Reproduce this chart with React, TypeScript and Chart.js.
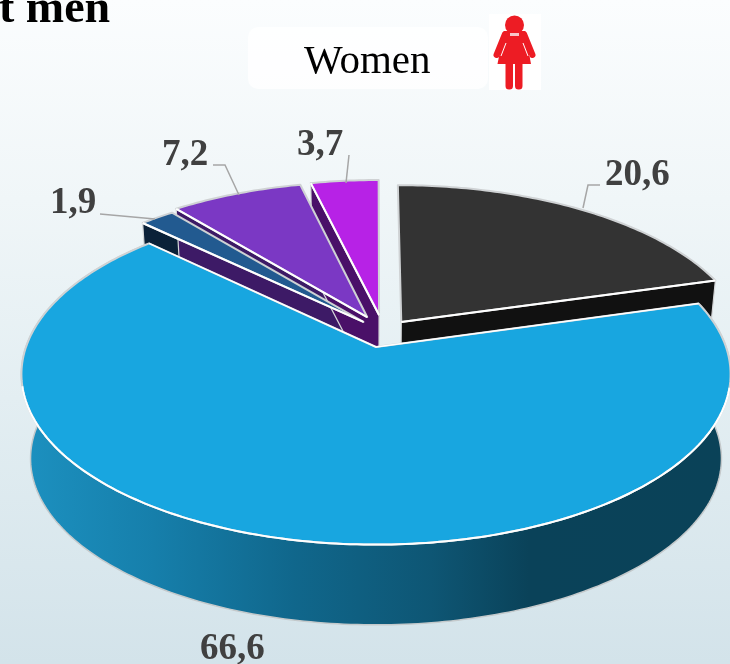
import React, { useEffect, useRef } from "react";
import { Chart, registerables } from "chart.js";

Chart.register(...registerables);

const categories = ["Group A", "Group B", "Group C", "Group D", "Group E"];
const values = [20.6, 66.6, 1.9, 7.2, 3.7];
const topColors = ["#333333", "#18a6e0", "#225a90", "#7b38c4", "#b722e6"];
const wallColors = ["#111111", "#0e5674", "#0b2138", "#3d1a66", "#4a1068"];
const title = "t men";
const subtitle = "Women";

// Style: how far each slice is pulled out, in units of the pie radius
const explodeU = [0.074, 0, -0.037, -0.026, 0.009];
const explodeV = [-0.155, 0, -0.155, -0.186, -0.199];
// Style: text anchor and leader line of every value label
const labelPos = [
  { x: 605, y: 185, line: [[600, 185], [588, 185], [583, 208]] },
  { x: 200, y: 659, line: [] },
  { x: 50, y: 213, line: [[100, 214], [155, 219]] },
  { x: 162, y: 165, line: [[213, 165], [225, 165], [239, 195]] },
  { x: 297, y: 155, line: [[349, 155], [346, 183]] },
];

const P = 0.16;
const planes = [
  { cx: 376, cy: 347, rx: 350, ry: 166 },
  { cx: 376, cy: 432, rx: 341, ry: 162 },
];

function proj(u: number, v: number, plane: number): [number, number] {
  const g = planes[plane];
  const w = 1 / (1 - P * v);
  return [g.cx + g.rx * u * w, g.cy + g.ry * v * w];
}

function pathOf(ctx: CanvasRenderingContext2D, pts: [number, number][], close = true) {
  ctx.beginPath();
  pts.forEach((p, i) => (i ? ctx.lineTo(p[0], p[1]) : ctx.moveTo(p[0], p[1])));
  if (close) ctx.closePath();
}

function rimPoints(start: number, end: number, i: number, plane: number) {
  const pts: [number, number][] = [];
  const n = Math.max(4, Math.ceil((end - start) * 60));
  for (let k = 0; k <= n; k++) {
    const a = start + ((end - start) * k) / n;
    pts.push(proj(Math.cos(a) + explodeU[i], Math.sin(a) + explodeV[i], plane));
  }
  return pts;
}

function drawIcon(ctx: CanvasRenderingContext2D) {
  ctx.fillStyle = "#ffffff";
  ctx.fillRect(489, 14, 52, 76);
  ctx.fillStyle = "#ed1c24";
  ctx.strokeStyle = "#ed1c24";
  ctx.beginPath();
  ctx.arc(514.5, 25, 9.5, 0, Math.PI * 2);
  ctx.fill();
  ctx.lineCap = "round";
  ctx.lineWidth = 6;
  ctx.beginPath();
  ctx.moveTo(505, 34);
  ctx.lineTo(496.5, 55);
  ctx.moveTo(524, 34);
  ctx.lineTo(532.5, 55);
  ctx.stroke();
  ctx.beginPath();
  ctx.moveTo(504, 31);
  ctx.lineTo(525, 31);
  ctx.lineTo(531, 64);
  ctx.lineTo(497.5, 64);
  ctx.closePath();
  ctx.fill();
  ctx.beginPath();
  ctx.roundRect(505.5, 60, 7.5, 29.5, 3.5);
  ctx.roundRect(515, 60, 7.5, 29.5, 3.5);
  ctx.fill();
  ctx.strokeStyle = "#ffffff";
  ctx.lineWidth = 1;
  ctx.lineCap = "butt";
  ctx.beginPath();
  ctx.moveTo(506, 43);
  ctx.lineTo(501, 56);
  ctx.moveTo(523, 43);
  ctx.lineTo(528, 56);
  ctx.stroke();
  ctx.fillStyle = "#f7c6c8";
  ctx.fillRect(510, 33, 9, 3);
}

const pie3d = {
  id: "pie3d",
  beforeDraw(chart: any) {
    const { ctx, width, height } = chart;
    const g = ctx.createLinearGradient(0, 0, 0, height);
    g.addColorStop(0, "#fbfdfe");
    g.addColorStop(0.3, "#f0f6f8");
    g.addColorStop(0.6, "#e3eef2");
    g.addColorStop(1, "#d3e3ea");
    ctx.fillStyle = g;
    ctx.fillRect(0, 0, width, height);
  },
  beforeDatasetDraw(chart: any) {
    const { ctx } = chart;
    const arcs: any[] = chart.getDatasetMeta(0).data;
    ctx.save();
    ctx.lineJoin = "round";

    // Side walls, all below the tops
    const wallGrad = ctx.createLinearGradient(28, 0, 724, 0);
    wallGrad.addColorStop(0, "#1c90bf");
    wallGrad.addColorStop(0.18, "#167fab");
    wallGrad.addColorStop(0.38, "#10678c");
    wallGrad.addColorStop(0.58, "#0e5674");
    wallGrad.addColorStop(0.72, "#0a4259");
    wallGrad.addColorStop(1, "#0a4258");

    arcs.forEach((el, i) => {
      const { startAngle: s, endAngle: e } = el;
      if (e - s > Math.PI) {
        const top = rimPoints(s, e, i, 0);
        const bottom = rimPoints(s, e, i, 1).reverse();
        pathOf(ctx, [...top, ...bottom]);
        ctx.fillStyle = wallGrad;
        ctx.fill();
        ctx.strokeStyle = "#c4c9cb";
        ctx.lineWidth = 1.5;
        ctx.stroke();
        return;
      }
      const edge = Math.sin(e) > Math.sin(s) ? e : s;
      const u = Math.cos(edge) + explodeU[i];
      const v = Math.sin(edge) + explodeV[i];
      pathOf(ctx, [
        proj(explodeU[i], explodeV[i], 0),
        proj(u, v, 0),
        proj(u, v, 1),
        proj(explodeU[i], explodeV[i], 1),
      ]);
      ctx.fillStyle = wallColors[i];
      ctx.fill();
      ctx.strokeStyle = "#d4d6d8";
      ctx.lineWidth = 1.2;
      ctx.stroke();
    });

    // Tops: the big slice last, so that it hides the walls behind it
    const order = arcs.map((_, i) => i).sort((a, b) => {
      const sa = arcs[a].endAngle - arcs[a].startAngle;
      const sb = arcs[b].endAngle - arcs[b].startAngle;
      return (sa > Math.PI ? 1 : 0) - (sb > Math.PI ? 1 : 0);
    });
    order.forEach((i) => {
      const el = arcs[i];
      const { startAngle: s, endAngle: e } = el;
      const apex = proj(explodeU[i], explodeV[i], 0);
      const rim = rimPoints(s, e, i, 0);
      pathOf(ctx, [apex, ...rim]);
      ctx.fillStyle = el.options.backgroundColor;
      ctx.fill();
      ctx.strokeStyle = "#cfd2d4";
      ctx.lineWidth = 2;
      ctx.stroke();
      // Edges that face the viewer are bright white
      ctx.strokeStyle = "#ffffff";
      ctx.lineWidth = 2;
      if (e - s > Math.PI) {
        const front = rim.filter((p) => p[1] > 385);
        pathOf(ctx, front, false);
        ctx.stroke();
        ctx.lineWidth = 1.5;
        pathOf(ctx, [rim[0], apex, rim[rim.length - 1]], false);
        ctx.stroke();
      } else {
        const edge = Math.sin(e) > Math.sin(s) ? rim[rim.length - 1] : rim[0];
        pathOf(ctx, [apex, edge], false);
        ctx.stroke();
      }
    });
    ctx.restore();
    return false;
  },
  afterDatasetsDraw(chart: any) {
    const { ctx } = chart;
    ctx.save();
    ctx.lineCap = "butt";
    ctx.strokeStyle = "#a6a6a6";
    ctx.lineWidth = 1.5;
    labelPos.forEach((l) => {
      if (!l.line.length) return;
      pathOf(ctx, l.line as [number, number][], false);
      ctx.stroke();
    });
    ctx.fillStyle = "#404040";
    ctx.font = 'bold 37px "Liberation Serif"';
    ctx.textAlign = "left";
    ctx.textBaseline = "alphabetic";
    values.forEach((val, i) => {
      ctx.fillText(val.toFixed(1).replace(".", ","), labelPos[i].x, labelPos[i].y);
    });

    ctx.fillStyle = "#000000";
    ctx.font = 'bold 46px "Liberation Serif"';
    ctx.fillText(title, -1, 22);

    ctx.fillStyle = "rgba(255,255,255,0.8)";
    ctx.beginPath();
    ctx.roundRect(248, 27, 240, 62, 10);
    ctx.fill();
    ctx.fillStyle = "#000000";
    ctx.font = '41px "Liberation Serif"';
    ctx.fillText(subtitle, 304, 73);
    drawIcon(ctx);
    ctx.restore();
  },
};

export default function App() {
  const ref = useRef<HTMLCanvasElement>(null);
  useEffect(() => {
    document.body.style.margin = "0";
    const chart = new Chart(ref.current!, {
      type: "pie",
      data: {
        labels: categories,
        datasets: [{ data: values, backgroundColor: topColors, borderWidth: 0 }],
      },
      options: {
        responsive: false,
        animation: false,
        plugins: { legend: { display: false }, tooltip: { enabled: false }, title: { display: false } },
      },
      plugins: [pie3d],
    } as any);
    return () => chart.destroy();
  }, []);
  return <canvas ref={ref} width={730} height={664} style={{ display: "block", width: 730, height: 664 }} />;
}
